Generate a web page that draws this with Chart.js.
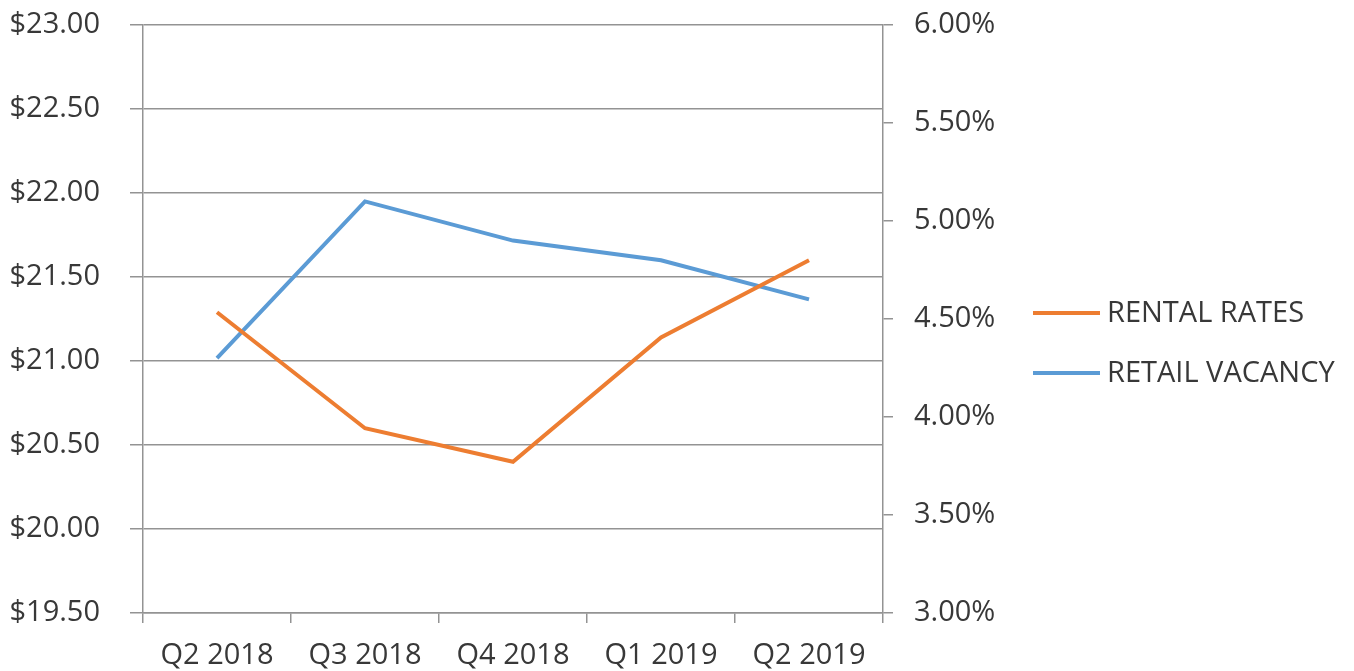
<!DOCTYPE html>
<html>
<head>
<meta charset="utf-8">
<title>Rental rates vs retail vacancy</title>
<script src="https://cdn.jsdelivr.net/npm/chart.js@4.4.1/dist/chart.umd.min.js"></script>
<style>
  html, body { margin: 0; padding: 0; background: #fff; }
  #wrap { width: 1354px; height: 671px; }
</style>
</head>
<body>
<div id="wrap"><canvas id="chart" width="1354" height="671"></canvas></div>
<script>
// ── Data ─────────────────────────────────────────────────
const quarters      = ['Q2 2018', 'Q3 2018', 'Q4 2018', 'Q1 2019', 'Q2 2019'];
const rentalRates   = [21.29, 20.60, 20.40, 21.14, 21.60];   // $ / sf, left axis
const retailVacancy = [4.30, 5.10, 4.90, 4.80, 4.60];        // %, right axis
const rentTicks     = [19.5, 23.0, 0.5];                      // min, max, step
const vacancyTicks  = [3.0, 6.0, 0.5];

// ── Look ─────────────────────────────────────────────────
const FONT   = "'Open Sans', 'Liberation Sans', sans-serif";
const TEXT   = '#383838';
const GRID   = '#939393';
const ORANGE = '#ED7D31';
const BLUE   = '#5B9BD5';

Chart.defaults.font.family = FONT;
Chart.defaults.font.size = 29;
Chart.defaults.color = TEXT;

// y axes: fixed width, no extra room reserved for the half labels at the ends
const fixAxis = width => s => { s.width = width; s.paddingTop = 0; s.paddingBottom = 0; };

// simple side legend, drawn next to the right axis
const sideLegend = {
  id: 'sideLegend',
  afterDraw(chart) {
    const { ctx, chartArea } = chart;
    const x0 = chartArea.right + 150;
    const mid = (chartArea.top + chartArea.bottom) / 2;
    const rowGap = 60;
    const items = chart.data.datasets;
    const startY = mid + 24 - (items.length - 1) * rowGap / 2;
    ctx.save();
    ctx.font = `29px ${FONT}`;
    ctx.textBaseline = 'middle';
    ctx.textAlign = 'left';
    items.forEach((ds, i) => {
      const y = startY + i * rowGap;
      ctx.strokeStyle = ds.borderColor;
      ctx.lineWidth = 4;
      ctx.beginPath();
      ctx.moveTo(x0, y);
      ctx.lineTo(x0 + 67, y);
      ctx.stroke();
      ctx.fillStyle = TEXT;
      ctx.fillText(ds.label, x0 + 74, y + 1);
    });
    ctx.restore();
  }
};

new Chart(document.getElementById('chart'), {
  type: 'line',
  data: {
    labels: quarters,
    datasets: [
      { label: 'RENTAL RATES',   data: rentalRates,   yAxisID: 'y',  borderColor: ORANGE, borderWidth: 4, pointRadius: 0, tension: 0 },
      { label: 'RETAIL VACANCY', data: retailVacancy, yAxisID: 'y1', borderColor: BLUE,   borderWidth: 4, pointRadius: 0, tension: 0 },
    ],
  },
  options: {
    responsive: false,
    animation: false,
    layout: { padding: { top: 25, left: 0, right: 0, bottom: 0 } },
    plugins: { legend: { display: false }, tooltip: { enabled: false } },
    scales: {
      x: {
        offset: true,
        grid: { offset: true, drawOnChartArea: false, tickLength: 10, color: GRID, lineWidth: 1.5 },
        border: { color: GRID, width: 1.5 },
        ticks: { padding: 15, maxRotation: 0 },
        afterFit: s => { s.height = 58; s.paddingLeft = 0; s.paddingRight = 0; },
      },
      y: {
        position: 'left',
        min: rentTicks[0], max: rentTicks[1],
        grid: { color: GRID, lineWidth: 1.5, tickLength: 13 },
        border: { color: GRID, width: 1.5 },
        ticks: { stepSize: rentTicks[2], padding: 30, callback: v => '$' + v.toFixed(2) },
        afterFit: fixAxis(143),
      },
      y1: {
        position: 'right',
        min: vacancyTicks[0], max: vacancyTicks[1],
        grid: { drawOnChartArea: false, color: GRID, lineWidth: 1.5, tickLength: 10 },
        border: { color: GRID, width: 1.5 },
        ticks: { stepSize: vacancyTicks[2], padding: 21, callback: v => v.toFixed(2) + '%' },
        afterFit: fixAxis(471),
      },
    },
  },
  plugins: [sideLegend],
});
</script>
</body>
</html>
